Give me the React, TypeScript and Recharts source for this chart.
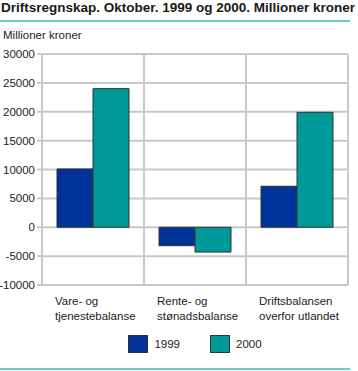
import React from "react";
import { BarChart, Bar, XAxis, YAxis, CartesianGrid, Legend } from "recharts";

const categories = [
  ["Vare- og", "tjenestebalanse"],
  ["Rente- og", "stønadsbalanse"],
  ["Driftsbalansen", "overfor utlandet"],
];
const values1999 = [10100, -3200, 7100];
const values2000 = [24000, -4300, 19900];
const yTicks = [-10000, -5000, 0, 5000, 10000, 15000, 20000, 25000, 30000];
const seriesNames = ["1999", "2000"];
const colors = ["#003399", "#009999"];

const data = categories.map((c, i) => ({
  name: c.join(" "),
  lines: c,
  v1999: values1999[i],
  v2000: values2000[i],
}));

const FONT = "'Liberation Sans', Arial, sans-serif";
const GRID = "#c8c8c8";

const CatTick = (props: any) => {
  const { x, y, payload } = props;
  const item = data[payload.index];
  const band = 306 / 3;
  const lx = x - band / 2 + 13;
  return (
    <text x={lx} y={y + 12} fontFamily={FONT} fontSize={11.5} fill="#222" textAnchor="start">
      <tspan x={lx} dy={0}>{item.lines[0]}</tspan>
      <tspan x={lx} dy={15}>{item.lines[1]}</tspan>
    </text>
  );
};

const LegendContent = () => (
  <div style={{ display: "flex", justifyContent: "center", fontFamily: FONT, fontSize: 11.5, color: "#222", height: 20 }}>
    {seriesNames.map((n, i) => (
      <div key={n} style={{ display: "flex", alignItems: "center", marginLeft: i === 0 ? 0 : 30 }}>
        <div style={{ width: 18, height: 16, background: colors[i], border: "1px solid #333", marginRight: 6 }} />
        <span>{n}</span>
      </div>
    ))}
  </div>
);

export default function App() {
  return (
    <div style={{ position: "fixed", left: 0, top: 0, width: 358, height: 371, background: "#fff", overflow: "hidden" }}>
      <div style={{ position: "absolute", left: 1, top: 0, fontFamily: FONT, fontWeight: "bold", fontSize: 13.5, color: "#1a1a1a", whiteSpace: "nowrap" }}>
        Driftsregnskap. Oktober. 1999 og 2000. Millioner kroner
      </div>
      <div style={{ position: "absolute", left: 0, top: 20, width: 350, height: 2, background: "#66cccc" }} />
      <div style={{ position: "absolute", left: 3, top: 29, fontFamily: FONT, fontSize: 11.5, color: "#222", whiteSpace: "nowrap" }}>
        Millioner kroner
      </div>
      <div style={{ position: "absolute", left: 0, top: 368, width: 350, height: 2, background: "#66cccc" }} />
      <div style={{ position: "absolute", left: 0, top: 0 }}>
        <BarChart
          width={358}
          height={371}
          data={data}
          margin={{ top: 54, right: 10, bottom: 26, left: 0 }}
          barCategoryGap={15}
          barGap={0}
        >
          <CartesianGrid
            stroke={GRID}
            strokeWidth={2}
            horizontal={true}
            vertical={true}
            verticalCoordinatesGenerator={({ offset }: any) =>
              [0, 1, 2, 3].map((i) => offset.left + (offset.width * i) / 3)
            }
          />
          <XAxis dataKey="name" axisLine={false} tickLine={false} tick={<CatTick />} interval={0} height={40} />
          <YAxis
            width={42}
            domain={[-10000, 30000]}
            ticks={yTicks}
            interval={0}
            axisLine={{ stroke: GRID, strokeWidth: 2 }}
            tickLine={{ stroke: GRID, strokeWidth: 2 }}
            tickSize={5}
            tickMargin={2}
            tick={{ fontFamily: FONT, fontSize: 11.5, fill: "#222" }}
          />
          <Legend
            content={<LegendContent />}
            height={20}
            wrapperStyle={{ position: "absolute", left: 42, top: 334, width: 306, height: 20 }}
          />
          <Bar dataKey="v1999" name="1999" fill={colors[0]} stroke="#333" strokeWidth={1} isAnimationActive={false} />
          <Bar dataKey="v2000" name="2000" fill={colors[1]} stroke="#333" strokeWidth={1} isAnimationActive={false} />
        </BarChart>
      </div>
    </div>
  );
}
